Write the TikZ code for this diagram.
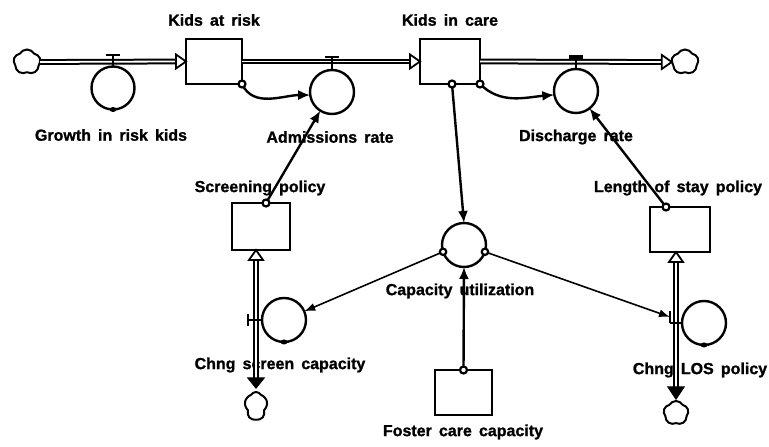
\documentclass[tikz,border=0pt]{standalone}
\usepackage{fontspec}
\setmainfont{Liberation Sans}[WordSpace=1.6, BoldFeatures={FakeBold=1.2}]
\usetikzlibrary{arrows.meta,shapes.symbols,calc}
\begin{document}
\begin{tikzpicture}[x=1pt,y=1pt,
  stock/.style={draw, rectangle, line width=2.4pt, inner sep=0pt, outer sep=0pt},
  aux/.style={draw, circle, line width=2.4pt, minimum size=44pt, inner sep=0pt, outer sep=0pt},
  src/.style={draw, cloud, cloud puffs=5, cloud puff arc=120, line width=2pt, inner sep=0pt, outer sep=0pt},
  lbl/.style={font=\fontsize{16}{18}\selectfont\bfseries, inner sep=0pt},
  pipe/.style={draw, line width=2pt, double=white, double distance=1.8pt},
  openhead/.style={draw, fill=white, line width=1.8pt, line join=miter},
  fillhead/.style={draw, fill=black, line width=1.2pt},
  link/.style={draw, line width=2.4pt, -{Latex[length=12pt,width=10pt]}},
  thinlink/.style={draw, line width=1.6pt, -{Latex[length=11pt,width=8pt]}},
  dotmark/.style={draw, fill=white, line width=2.2pt},
  valve/.style={draw, line width=2.4pt}]
\useasboundingbox (0,0) rectangle (769,447);

% stocks
\node[stock, minimum width=56pt, minimum height=45pt] (kar) at (214,385.5) {};
\node[stock, minimum width=60pt, minimum height=45pt] (kic) at (450,385.5) {};
\node[stock, minimum width=58pt, minimum height=47pt] (scr) at (261,220.5) {};
\node[stock, minimum width=60pt, minimum height=45pt] (los) at (680,217.5) {};
\node[stock, minimum width=57pt, minimum height=45pt] (fos) at (463.5,54.5) {};

% auxiliaries / rates
\node[aux, minimum size=43pt] (gro) at (113,359) {};
\node[aux] (adm) at (332,355) {};
\node[aux] (dis) at (576,356) {};
\node[aux] (cap) at (464,202) {};
\node[aux] (chs) at (284,127) {};
\node[aux] (chl) at (704,124) {};

% clouds
\node[src, minimum width=27pt, minimum height=25pt] (cl) at (27,385) {};
\node[src, minimum width=27pt, minimum height=25pt] (cr) at (685,385) {};
\node[src, minimum width=23pt, minimum height=28pt] (cs) at (256,41) {};
\node[src, minimum width=25pt, minimum height=24pt] (cb) at (676,34) {};

% labels
\node[lbl] (lkar) at (214,427) {Kids at risk};
\node[lbl] (lkic) at (450,427) {Kids in care};
\node[lbl] (lgro) at (111,312) {Growth in risk kids};
\node[lbl] (ladm) at (330,310) {Admissions rate};
\node[lbl] (ldis) at (576,310) {Discharge rate};
\node[lbl] (lscr) at (260,259) {Screening policy};
\node[lbl] (llos) at (678,259) {Length of stay policy};
\node[lbl] (lcap) at (460,156) {Capacity utilization};
\node[lbl] (lchs) at (280,82) {Chng screen capacity};
\node[lbl] (lchl) at (700,77) {Chng LOS policy};
\node[lbl] (lfos) at (463,15) {Foster care capacity};

% horizontal pipes
\path[pipe] (cl.east) -- ($(kar.west)+(-10,0)$);
\path[openhead] (kar.west) -- ++(-10,7) -- ++(0,-14) -- cycle;
\path[pipe] (kar.east) -- ($(kic.west)+(-10,0)$);
\path[openhead] (kic.west) -- ++(-10,7) -- ++(0,-14) -- cycle;
\path[pipe] (kic.east) -- ($(cr.west)+(-10,0)$);
\path[openhead] (cr.west) -- ++(-10,7) -- ++(0,-14) -- cycle;

% vertical pipes
\coordinate (stop) at ($(scr.south)+(-5,0)$);
\coordinate (sbot) at ($(cs.north)+(0,4)$);
\path[pipe] ($(stop)+(0,-10)$) -- ($(sbot)+(0,10)$);
\path[openhead] (stop) -- ++(-7,-10) -- ++(14,0) -- cycle;
\path[fillhead] (sbot) -- ++(-8,10) -- ++(16,0) -- cycle;

\coordinate (ltop) at ($(los.south)+(-4,0)$);
\coordinate (lbot) at ($(cb.north)+(0,2)$);
\path[pipe] ($(ltop)+(0,-10)$) -- ($(lbot)+(0,12)$);
\path[openhead] (ltop) -- ++(-7,-10) -- ++(14,0) -- cycle;
\path[fillhead] (lbot) -- ++(-8,12) -- ++(16,0) -- cycle;

% valves on top of rates
\path[valve] (gro.north) -- ++(0,11.5);
\path[valve] ($(gro.north)+(-7,11.5)$) -- ++(14,0);
\path[valve] (adm.north) -- ++(0,13);
\path[valve] ($(adm.north)+(-7,13)$) -- ++(14,0);
\path[valve] (dis.north) -- ++(0,11);
\path[fill=black] ($(dis.north)+(-7,10)$) rectangle ++(14,4);

% side valves
\coordinate (svalve) at (248,127);
\path[valve] (chs.west) -- (svalve);
\path[valve] ($(svalve)+(0,-6)$) -- ++(0,12);
\coordinate (lvalve) at (670,130);
\path[valve] (chl.west) -- ($(chl.west)+(-12,0)$);
\path[valve] ($(lvalve)+(0,-6)$) -- ++(0,12);

% bottom marks on circles
\fill (gro.south) ellipse (3.5pt and 2.5pt);
\fill (chs.south) ellipse (3.5pt and 2.5pt);
\fill (chl.south) ellipse (3.5pt and 2.5pt);

% information links
\path[link] (kar.south east) to[out=-65,in=180] (adm.188);
\path[link] (kic.south east) to[out=-45,in=185] (dis.190);
\path[link] ($(kic.south)+(2,0)$) -- (cap.north);
\path[link] ($(scr.north)+(5,0)$) -- (adm.238);
\path[link] ($(los.north)+(-14,0)$) -- (dis.-52);
\path[link] (fos.north) -- (cap.south);
\path[thinlink] (cap.198) -- (chs);
\path[thinlink] (cap.-18) -- (lvalve);

% link origin dots
\path[dotmark] (kar.south east) circle (3.5pt);
\path[dotmark] (kic.south east) circle (3.5pt);
\path[dotmark] ($(kic.south)+(2,0)$) circle (3.5pt);
\path[dotmark] ($(scr.north)+(5,0)$) circle (3.5pt);
\path[dotmark] ($(los.north)+(-14,0)$) circle (3.5pt);
\path[dotmark] (fos.north) circle (3.5pt);
\path[dotmark] (cap.198) circle (3.2pt);
\path[dotmark] (cap.-18) circle (3.2pt);
\end{tikzpicture}
\end{document}
